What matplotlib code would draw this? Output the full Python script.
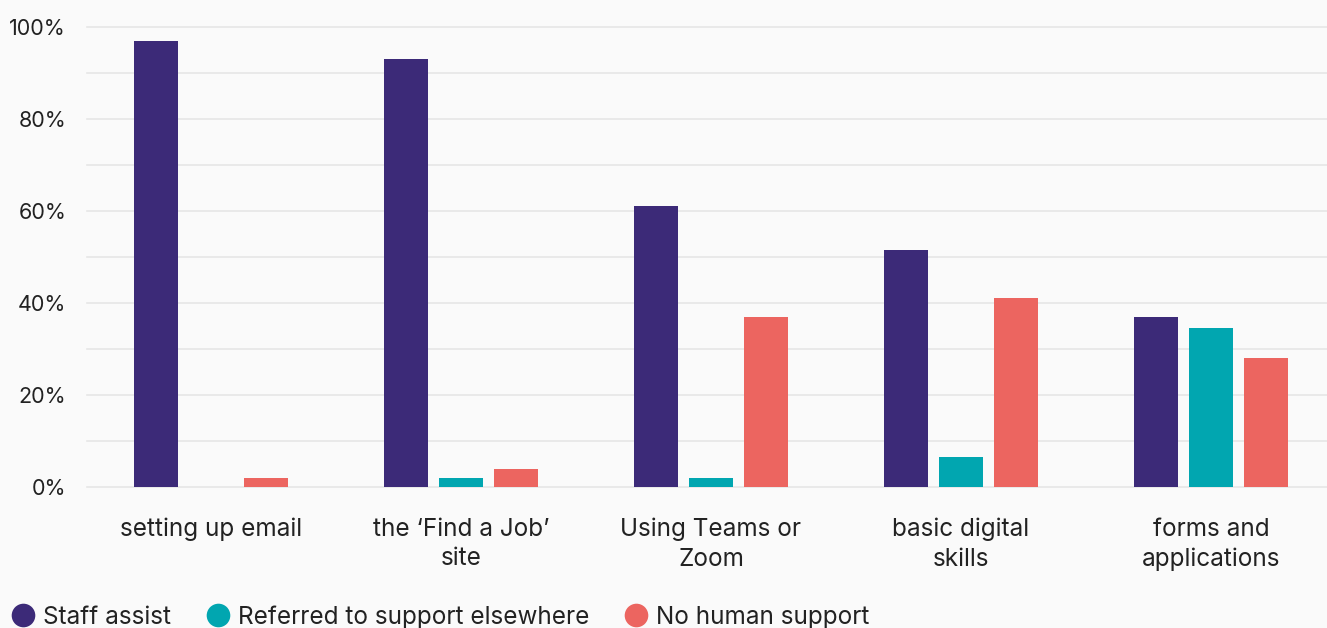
import matplotlib
matplotlib.use("Agg")
import matplotlib.pyplot as plt
from matplotlib.lines import Line2D
import numpy as np

categories = ["setting up email", "the \u2018Find a Job\u2019\nsite", "Using Teams or\nZoom",
              "basic digital\nskills", "forms and\napplications"]
series_names = ["Staff assist", "Referred to support elsewhere", "No human support"]
staff_assist = [97, 93, 61, 51.5, 37]
referred_elsewhere = [0, 2, 2, 6.5, 34.5]
no_human_support = [2, 4, 37, 41, 28]
y_ticks = [0, 20, 40, 60, 80, 100]

colors = ["#3c2a78", "#01a6b0", "#ec6560"]
bg = "#fafafa"
txt = "#222222"
font = "Inter"

W, H = 1327, 628
fig = plt.figure(figsize=(W / 100, H / 100), dpi=100, facecolor=bg)
left, right, top, bottom = 87, 1327, 27, 487
ax = fig.add_axes([left / W, 1 - bottom / H, (right - left) / W, (bottom - top) / H])
ax.set_facecolor(bg)

x = np.arange(len(categories))
bw = 0.176
offs = [-0.22, 0.0, 0.22]
for vals, off, c in zip([staff_assist, referred_elsewhere, no_human_support], offs, colors):
    ax.bar(x + off, vals, width=bw, color=c, zorder=3, linewidth=0)

ax.set_xlim(-0.496, 4.464)
ax.set_ylim(0, 100)
ax.set_yticks(y_ticks)
ax.set_yticklabels([f"{v}%" for v in y_ticks])
for g in range(0, 101, 10):
    ax.axhline(g, color="#e6e6e6", linewidth=1.2, zorder=1, clip_on=False)

ax.set_xticks(x)
ax.set_xticklabels(categories, linespacing=1.38)
ax.tick_params(axis="x", length=0, pad=22, labelsize=17.5, labelcolor=txt)
ax.tick_params(axis="y", length=0, pad=15, labelsize=15.5, labelcolor=txt)
for lab in ax.get_xticklabels() + ax.get_yticklabels():
    lab.set_fontfamily(font)
for s in ax.spines.values():
    s.set_visible(False)

handles = [Line2D([], [], marker="o", linestyle="none", markersize=17, markerfacecolor=c,
                  markeredgewidth=0) for c in colors]
fig.legend(handles, series_names, loc="center left", bbox_to_anchor=(-0.008, 1 - 617 / H),
           ncol=3, frameon=False, prop={"family": font, "size": 17.5},
           handlelength=1.0, handletextpad=0.3, columnspacing=1.45, labelcolor=txt)

fig.savefig("out.png", dpi=100, facecolor=bg)
